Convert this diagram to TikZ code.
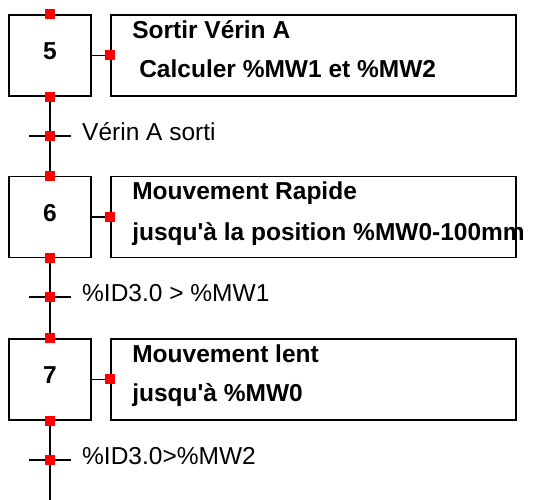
\documentclass[tikz,border=0pt]{standalone}
\usepackage{fontspec}
\setmainfont{Liberation Sans}
\usepackage{xcolor}
\definecolor{GrafRouge}{HTML}{FF0000}
\definecolor{GrafNoir}{HTML}{000000}
\tikzset{
    % Step and action boxes - sharp corners
    etape/.style={
        rectangle,
        draw=GrafNoir,
        line width=1.8bp,
        minimum width=82bp,
        minimum height=81bp,
        text height=17bp,
        text depth=8bp,
        inner sep=0pt,
        font=\fontsize{24.5bp}{30bp}\selectfont\bfseries
    },
    action/.style={
        rectangle,
        draw=GrafNoir,
        line width=1.8bp,
        minimum width=405bp,
        minimum height=81bp,
        inner sep=0pt
    },
    actiontexte/.style={
        anchor=base west,
        inner sep=0pt,
        font=\fontsize{24.5bp}{30bp}\selectfont\bfseries
    },
    recepttexte/.style={
        anchor=base west,
        inner sep=0pt,
        font=\fontsize{24.5bp}{30bp}\selectfont
    },
    % Links and red marks
    lien/.style={
        line width=1.8bp,
        draw=GrafNoir
    },
    marque/.style={
        rectangle,
        fill=GrafRouge,
        minimum size=10bp,
        inner sep=0pt
    }
}

\begin{document}
\begin{tikzpicture}[x=1bp, y=1bp]
    \useasboundingbox (0,0) rectangle (534,500);

    % steps and actions
    \node[etape] (e5) at (50,444.5) {5};
    \node[action] (a5) at (313.5,444.5) {};
    \node[actiontexte] (a5l1) at ([xshift=22bp, yshift=-24bp]a5.north west) {Sortir Vérin A};
    \node[actiontexte] (a5l2) at ([xshift=29bp, yshift=-63bp]a5.north west) {Calculer \%MW1 et \%MW2};

    \node[etape] (e6) at (50,283) {6};
    \node[action] (a6) at (313.5,283) {};
    \node[actiontexte] (a6l1) at ([xshift=22bp, yshift=-24bp]a6.north west) {Mouvement Rapide};
    \node[actiontexte] (a6l2) at ([xshift=22bp, yshift=-65bp]a6.north west) {jusqu\textquotesingle à la position \%MW0-100mm};

    \node[etape] (e7) at (50,120.5) {7};
    \node[action] (a7) at (313.5,120.5) {};
    \node[actiontexte] (a7l1) at ([xshift=22bp, yshift=-24bp]a7.north west) {Mouvement lent};
    \node[actiontexte] (a7l2) at ([xshift=22bp, yshift=-63bp]a7.north west) {jusqu\textquotesingle à \%MW0};

    % transitions
    \coordinate (t1) at (50,364);
    \coordinate (t2) at (50,203);
    \coordinate (t3) at (50,40);
    \coordinate (fin) at (50,0);

    \draw[lien] (e5.south) -- (e6.north);
    \draw[lien] (e6.south) -- (e7.north);
    \draw[lien] (e7.south) -- (fin);
    \foreach \e in {5,6,7}
        \draw[lien] (e\e.east) -- (a\e.west);
    \foreach \t in {1,2,3}
        \draw[lien] ([xshift=-21bp]t\t) -- ([xshift=21bp]t\t);

    \node[recepttexte] (r1) at ([xshift=32bp, yshift=-5bp]t1) {Vérin A sorti};
    \node[recepttexte] (r2) at ([xshift=32bp, yshift=-5bp]t2) {\%ID3.0 > \%MW1};
    \node[recepttexte] (r3) at ([xshift=32bp, yshift=-5bp]t3) {\%ID3.0>\%MW2};

    % red marks
    \foreach \e in {5,6,7} {
        \node[marque] (mh\e) at (e\e.north) {};
        \node[marque] (mb\e) at (e\e.south) {};
        \node[marque] (ma\e) at (a\e.west) {};
    }
    \foreach \t in {1,2,3}
        \node[marque] (mt\t) at (t\t) {};
\end{tikzpicture}
\end{document}
